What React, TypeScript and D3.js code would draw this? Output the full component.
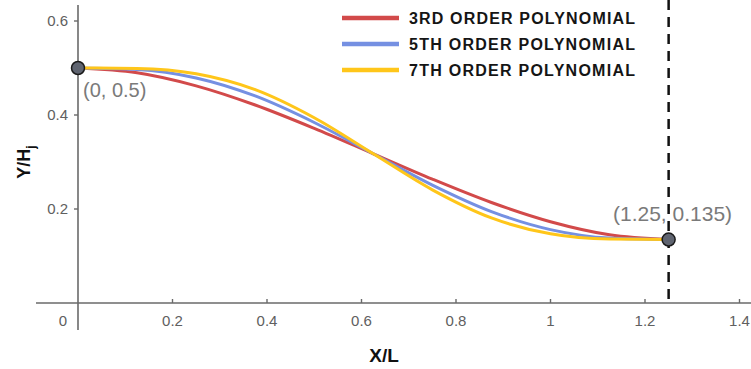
import React from "react";
import * as d3 from "d3";

const xValues = [0, 0.125, 0.25, 0.375, 0.5, 0.625, 0.75, 0.875, 1.0, 1.125, 1.25];
const cubic = [0.5, 0.4898, 0.462, 0.4212, 0.3715, 0.3175, 0.2635, 0.2138, 0.173, 0.1452, 0.135];
const quintic = [0.5, 0.4969, 0.4789, 0.4405, 0.3841, 0.3175, 0.2509, 0.1945, 0.1561, 0.1381, 0.135];
const septic = [0.5, 0.499, 0.4878, 0.454, 0.3942, 0.3175, 0.2408, 0.181, 0.1472, 0.136, 0.135];

const seriesNames = ["3RD ORDER POLYNOMIAL", "5TH ORDER POLYNOMIAL", "7TH ORDER POLYNOMIAL"];
const seriesColors = ["#d24a4a", "#7590e2", "#ffc61a"];
const seriesValues = [cubic, quintic, septic];

const xTicks = [0.2, 0.4, 0.6, 0.8, 1, 1.2, 1.4];
const yTicks = [0.2, 0.4, 0.6];

const markedPoints = [
  { x: 0, y: 0.5, label: "(0, 0.5)" },
  { x: 1.25, y: 0.135, label: "(1.25, 0.135)" },
];
const boundaryX = 1.25;

export default function App() {
  const W = 751;
  const H = 369;
  const x = d3.scaleLinear().domain([0, 1.4]).range([78, 739.5]);
  const y = d3.scaleLinear().domain([0, 0.6]).range([303, 21]);
  const line = d3
    .line<[number, number]>()
    .x((d) => x(d[0]))
    .y((d) => y(d[1]))
    .curve(d3.curveMonotoneX);

  const axisColor = "#6a6a6a";
  const tickText = "#606060";
  const font = "'Liberation Sans', Arial, sans-serif";

  return (
    <svg
      width={W}
      height={H}
      style={{ position: "absolute", left: 0, top: 0, background: "#fff" }}
    >
      {/* axes */}
      <line x1={36} x2={751} y1={y(0)} y2={y(0)} stroke={axisColor} strokeWidth={1.6} />
      <line x1={x(0)} x2={x(0)} y1={5} y2={330} stroke={axisColor} strokeWidth={1.6} />
      {xTicks.map((t) => (
        <g key={"xt" + t}>
          <line x1={x(t)} x2={x(t)} y1={y(0) - 4} y2={y(0)} stroke={axisColor} strokeWidth={1.4} />
          <text
            x={x(t)}
            y={y(0) + 23}
            textAnchor="middle"
            fontFamily={font}
            fontSize={15}
            fill={tickText}
          >
            {String(t)}
          </text>
        </g>
      ))}
      <text x={63} y={y(0) + 23} textAnchor="middle" fontFamily={font} fontSize={15} fill={tickText}>
        0
      </text>
      {yTicks.map((t) => (
        <g key={"yt" + t}>
          <line x1={x(0) - 4} x2={x(0)} y1={y(t)} y2={y(t)} stroke={axisColor} strokeWidth={1.4} />
          <text
            x={68}
            y={y(t) + 5}
            textAnchor="end"
            fontFamily={font}
            fontSize={15}
            fill={tickText}
          >
            {String(t)}
          </text>
        </g>
      ))}

      {/* axis labels */}
      <text x={384} y={362} textAnchor="middle" fontFamily={font} fontWeight="bold" fontSize={19} fill="#111">
        X/L
      </text>
      <text
        transform="translate(30,162) rotate(-90)"
        textAnchor="middle"
        fontFamily={font}
        fontWeight="bold"
        fontSize={18}
        fill="#111"
      >
        Y/H
        <tspan fontSize={12} dy={5}>j</tspan>
      </text>

      {/* dashed boundary */}
      <line
        x1={x(boundaryX)}
        x2={x(boundaryX)}
        y1={0}
        y2={y(0)}
        stroke="#111"
        strokeWidth={2.5}
        strokeDasharray="10,7"
      />

      {/* curves */}
      {seriesValues.map((vals, i) => (
        <path
          key={"s" + i}
          d={line(xValues.map((xv, j) => [xv, vals[j]] as [number, number])) || ""}
          fill="none"
          stroke={seriesColors[i]}
          strokeWidth={3}
        />
      ))}

      {/* marked points */}
      {markedPoints.map((p, i) => (
        <circle
          key={"p" + i}
          cx={x(p.x)}
          cy={y(p.y)}
          r={6.5}
          fill="#5f6470"
          stroke="#1a1a1a"
          strokeWidth={1.5}
        />
      ))}
      <text x={83} y={97} fontFamily={font} fontSize={20} fill="#7a7a7a">
        {markedPoints[0].label}
      </text>
      <text x={613} y={221} fontFamily={font} fontSize={21} fill="#7a7a7a">
        {markedPoints[1].label}
      </text>

      {/* legend */}
      {seriesNames.map((name, i) => {
        const ly = [18, 44, 70][i];
        return (
          <g key={"lg" + i}>
            <line x1={342} x2={399} y1={ly} y2={ly} stroke={seriesColors[i]} strokeWidth={4.5} />
            <text
              x={409}
              y={ly + 6}
              fontFamily={font}
              fontWeight="bold"
              fontSize={16}
              fill="#151515"
              textLength={226}
              lengthAdjust="spacing"
            >
              {name}
            </text>
          </g>
        );
      })}
    </svg>
  );
}
